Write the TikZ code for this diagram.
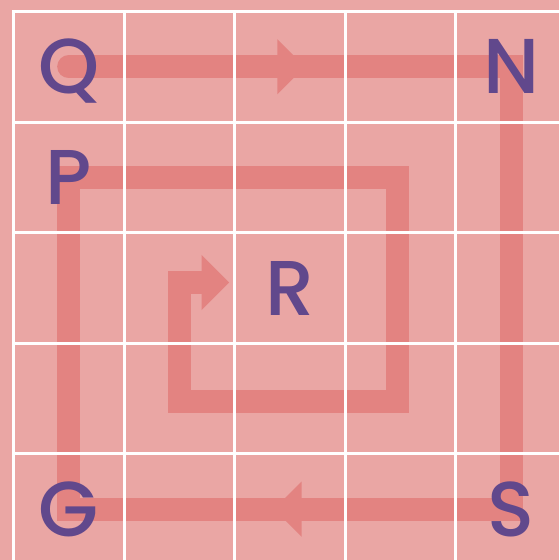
\documentclass[tikz,border=0pt]{standalone}
\usepackage{fontspec}
\usetikzlibrary{arrows.meta, calc, backgrounds}
\newfontfamily\letterfont{Poppins Medium}
\definecolor{tilepink}{HTML}{EAA6A4}
\definecolor{trailred}{HTML}{E38381}
\definecolor{letterpurple}{HTML}{61488C}

\begin{document}
\begin{tikzpicture}[
    letter/.style={font=\letterfont\fontsize{40}{40}\selectfont, text=letterpurple,
                   inner sep=0pt, text height=9.8mm, text depth=0pt},
    trail/.style={draw=trailred, line width=4.2mm},
    trailhead/.style={trail, -{Triangle[length=5mm, width=10mm, line width=0pt]}},
    gridline/.style={white, line width=1.5pt, line cap=rect}
]
    \useasboundingbox (-0.244,0.208) rectangle (9.864,-9.919);

    % Letters
    \node[letter] (Q) at (1,-1) {Q};
    \node[letter] (N) at (9,-1) {N};
    \node[letter] (P) at (1,-3) {P};
    \node[letter] (R) at (5,-5) {R};
    \node[letter] (G) at (1,-9) {G};
    \node[letter] (S) at (9,-9) {S};

    % Inner turns of the trail
    \coordinate (turnA) at (6.95,-3);
    \coordinate (turnB) at (6.95,-7.05);
    \coordinate (turnC) at (3,-7.05);
    \coordinate (turnD) at (3,-4.9);
    \coordinate (endR) at (3.9,-4.9);
    \coordinate (topmid) at ($(Q)!0.5!(N)$);
    \coordinate (botmid) at ($(S)!0.5!(G)$);

    \begin{pgfonlayer}{background}
        \fill[tilepink] (-0.244,0.208) rectangle (9.864,-9.919);

        % Trail
        \draw[trailhead, line cap=round] (Q.center) -- (N.center) -- (S.center)
            -- (G.center) -- (P.center) -- (turnA) -- (turnB) -- (turnC)
            -- (turnD) -- (endR);
        \draw[trailhead] ([xshift=-3mm]topmid) -- ([xshift=2.7mm]topmid);
        \draw[trailhead] ([xshift=3mm]botmid) -- ([xshift=-2.9mm]botmid);

        % Grid
        \foreach \k in {0,2,...,8} {
            \draw[gridline] (\k,0) -- (\k,-10);
            \draw[gridline] (0,-\k) -- (10,-\k);
        }
    \end{pgfonlayer}
\end{tikzpicture}
\end{document}
